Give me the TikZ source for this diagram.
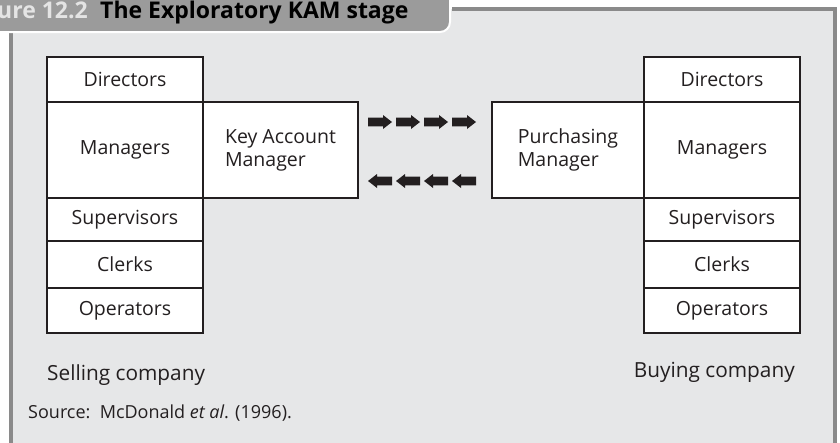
\documentclass[tikz,border=0pt]{standalone}
\usepackage{fontspec}
\setmainfont{Open Sans}
\definecolor{panelbg}{HTML}{E6E7E8}
\definecolor{framegrey}{HTML}{8A8A8A}
\definecolor{tabgrey}{HTML}{9B9B9B}
\definecolor{numgrey}{HTML}{E4E4E4}
\definecolor{ink}{HTML}{231F20}
\begin{document}
\begin{tikzpicture}[x=1pt,y=-1pt,
  box/.style={draw=ink, line width=1.4pt, fill=white, inner sep=0pt,
    minimum width=156pt, text=ink, font=\fontsize{19.5}{23}\selectfont},
  rolebox/.style={draw=ink, line width=1.4pt, fill=white, inner sep=0pt,
    text=ink, font=\fontsize{19.5}{23}\selectfont, align=left},
  label/.style={text=ink, inner sep=0pt, font=\fontsize{20.8}{24}\selectfont},
  fatarrow/.style={fill=ink}]
\useasboundingbox (0,0) rectangle (840,442);
\fill[white] (0,0) rectangle (840,442);
% panel and its frame
\fill[panelbg] (10,9) rectangle (835,460);
\draw[framegrey, line width=4pt] (452,9) -- (835,9) -- (835,460);
\draw[framegrey, line width=4pt] (10.5,30) -- (10.5,460);
% title tab
\fill[tabgrey, draw=white, line width=2pt]
  (-10,-10) -- (450,-10) -- (450,22) arc (0:90:10) -- (-10,32) -- cycle;
\node[anchor=base east, inner sep=0pt, text=numgrey,
  font=\fontsize{23}{26}\bfseries] (fignum) at (88,18) {Figure 12.2};
\node[anchor=base west, inner sep=0pt, text=black,
  font=\fontsize{23}{26}\bfseries] (figtitle) at (100,18) {The Exploratory KAM stage};
% selling company hierarchy
\node[box, minimum height=45pt] (ld) at (125,79.5) {Directors};
\node[box, minimum height=96pt] (lm) at (125,150) {Managers};
\node[box, minimum height=43pt] (ls) at (125,219.5) {Supervisors};
\node[box, minimum height=47pt] (lc) at (125,264.5) {Clerks};
\node[box, minimum height=45pt] (lo) at (125,310.5) {Operators};
\node[rolebox, minimum width=155pt, minimum height=96pt] (kam) at (280.5,150)
  {Key Account\\Manager};
% buying company hierarchy
\node[box, minimum height=45pt] (rd) at (722,79.5) {Directors};
\node[box, minimum height=96pt] (rm) at (722,150) {Managers};
\node[box, minimum height=43pt] (rs) at (722,219.5) {Supervisors};
\node[box, minimum height=47pt] (rc) at (722,264.5) {Clerks};
\node[box, minimum height=45pt] (ro) at (722,310.5) {Operators};
\node[rolebox, minimum width=152pt, minimum height=96pt] (pm) at (568,150)
  {Purchasing\\Manager};
% flows between the key account manager and the purchasing manager
\foreach \x in {368,396,424,452} {
  \fill[fatarrow] (\x,117.7) -- (\x+15,117.7) -- (\x+15,115) -- (\x+24,122)
    -- (\x+15,129) -- (\x+15,126.3) -- (\x,126.3) -- cycle;
  \fill[fatarrow] (\x+24,176.7) -- (\x+9,176.7) -- (\x+9,174) -- (\x,181)
    -- (\x+9,188) -- (\x+9,185.3) -- (\x+24,185.3) -- cycle;
}
% captions
\node[label, anchor=west] (sell) at (47,375) {Selling company};
\node[label, anchor=east] (buy) at (795,372) {Buying company};
\node[label, anchor=west, font=\fontsize{18}{21}\selectfont] (src) at (28,413)
  {Source:\ \ McDonald \textit{et al}. (1996).};
\end{tikzpicture}
\end{document}
